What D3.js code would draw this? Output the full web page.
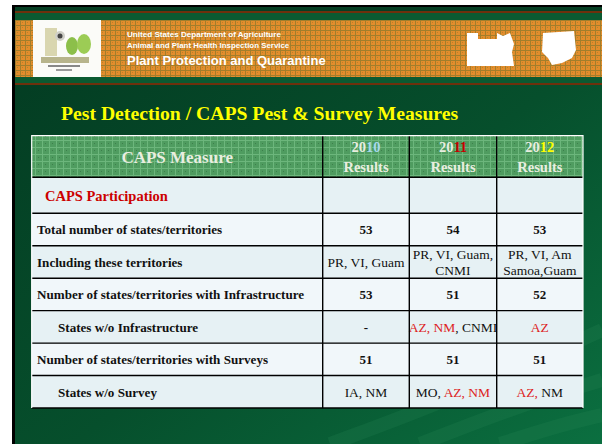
<!DOCTYPE html>
<html>
<head>
<meta charset="utf-8">
<script src="https://cdn.jsdelivr.net/npm/d3@7"></script>
<style>
  html, body { margin: 0; padding: 0; background: #fff; }
  svg { display: block; }
</style>
</head>
<body>
<svg id="slide" width="602" height="444"></svg>
<script>
// table data
var years = ["2010", "2011", "2012"];
var measures = [
  "CAPS Participation",
  "Total number of states/territories",
  "Including these territories",
  "Number of states/territories with Infrastructure",
  "States w/o Infrastructure",
  "Number of states/territories with Surveys",
  "States w/o Survey"
];
// kind of each row: section title, total, list, sub-list
var rowKind = ["section", "count", "list", "count", "sub", "count", "sub"];
// *...* marks the states flagged in red on the slide
var results2010 = ["", "53", "PR, VI, Guam", "53", "-", "51", "IA, NM"];
var results2011 = ["", "54", "PR, VI, Guam,|CNMI", "51", "*AZ, NM*, CNMI", "51", "MO, *AZ, NM*"];
var results2012 = ["", "53", "PR, VI, Am|Samoa,Guam", "52", "*AZ*", "51", "*AZ,* NM"];

var svg = d3.select("#slide");
var defs = svg.append("defs");

// background gradient
var bg = defs.append("linearGradient").attr("id", "bg")
  .attr("x1", "0").attr("y1", "0").attr("x2", "1").attr("y2", "1");
bg.append("stop").attr("offset", "0").attr("stop-color", "#033a21");
bg.append("stop").attr("offset", "0.55").attr("stop-color", "#064f2c");
bg.append("stop").attr("offset", "1").attr("stop-color", "#0b6f40");

// orange plaid of the banner
var plaid = defs.append("pattern").attr("id", "plaid")
  .attr("width", 5).attr("height", 5).attr("patternUnits", "userSpaceOnUse");
plaid.append("rect").attr("width", 5).attr("height", 5).attr("fill", "#e38d2c");
plaid.append("rect").attr("width", 5).attr("height", 1).attr("fill", "#a27e2c");
plaid.append("rect").attr("width", 1).attr("height", 5).attr("fill", "#a27e2c");
plaid.append("rect").attr("x", 2).attr("y", 2).attr("width", 1).attr("height", 1).attr("fill", "#b8822a");

// green grid of the table head
var grid = defs.append("pattern").attr("id", "grid")
  .attr("width", 7).attr("height", 7).attr("patternUnits", "userSpaceOnUse");
grid.append("rect").attr("width", 7).attr("height", 7).attr("fill", "#4f9c60");
grid.append("rect").attr("width", 7).attr("height", 1).attr("fill", "#6cb67c");
grid.append("rect").attr("width", 1).attr("height", 7).attr("fill", "#6cb67c");
grid.append("rect").attr("x", 3).attr("y", 3).attr("width", 1).attr("height", 1).attr("fill", "#3d7f4c");

// slide frame
svg.append("rect").attr("x", 12).attr("y", 5).attr("width", 590).attr("height", 439).attr("fill", "#000");
svg.append("rect").attr("x", 15).attr("y", 7).attr("width", 587).attr("height", 437).attr("fill", "url(#bg)");

// soft streaks bottom right
var streak = d3.line().curve(d3.curveBasis);
[[[330, 444], [450, 400], [602, 330]],
 [[420, 444], [520, 405], [602, 380]],
 [[500, 444], [560, 425], [602, 415]]].forEach(function(p) {
  svg.append("path").attr("d", streak(p)).attr("fill", "none")
    .attr("stroke", "#2c8a58").attr("stroke-opacity", 0.2).attr("stroke-width", 14);
});

// banner
svg.append("rect").attr("x", 15).attr("y", 7).attr("width", 587).attr("height", 4).attr("fill", "#063f23");
svg.append("rect").attr("x", 15).attr("y", 11).attr("width", 587).attr("height", 2).attr("fill", "#6e300c");
svg.append("rect").attr("x", 15).attr("y", 13).attr("width", 587).attr("height", 7).attr("fill", "#0b5a31");
svg.append("rect").attr("x", 15).attr("y", 20).attr("width", 587).attr("height", 57).attr("fill", "url(#plaid)");
svg.append("rect").attr("x", 15).attr("y", 77).attr("width", 587).attr("height", 6).attr("fill", "#0b5a31");
svg.append("rect").attr("x", 15).attr("y", 83).attr("width", 587).attr("height", 2).attr("fill", "#6e300c");

// left logo
var logo = svg.append("g");
logo.append("rect").attr("x", 33).attr("y", 20).attr("width", 68).attr("height", 57).attr("fill", "#fbfbf8");
logo.append("rect").attr("x", 45).attr("y", 28).attr("width", 12).attr("height", 28).attr("fill", "#d9d6b0");
logo.append("circle").attr("cx", 60).attr("cy", 36).attr("r", 5).attr("fill", "#cfcfc8");
logo.append("circle").attr("cx", 60).attr("cy", 36).attr("r", 2.5).attr("fill", "#444");
logo.append("ellipse").attr("cx", 72).attr("cy", 46).attr("rx", 6).attr("ry", 9).attr("fill", "#8cbf4a");
logo.append("ellipse").attr("cx", 84).attr("cy", 44).attr("rx", 7).attr("ry", 10).attr("fill", "#9ccc55");
logo.append("rect").attr("x", 41).attr("y", 57).attr("width", 48).attr("height", 6).attr("fill", "#b7b48c");
logo.append("rect").attr("x", 48).attr("y", 65).attr("width", 32).attr("height", 2).attr("fill", "#888");
logo.append("rect").attr("x", 56).attr("y", 69).attr("width", 16).attr("height", 2).attr("fill", "#999");

// banner text
var banner = svg.append("g").attr("font-family", "'Liberation Sans', Arial, sans-serif")
  .attr("font-weight", "bold").attr("fill", "#fff");
banner.append("text").attr("x", 127).attr("y", 37).attr("font-size", 8.1)
  .text("United States Department of Agriculture");
banner.append("text").attr("x", 127).attr("y", 47.5).attr("font-size", 7.9)
  .text("Animal and Plant Health Inspection Service");
banner.append("text").attr("x", 127).attr("y", 64.5).attr("font-size", 13)
  .text("Plant Protection and Quarantine");

// right logos (white silhouettes)
svg.append("path").attr("fill", "#fff")
  .attr("d", "M467,33 L478,33 L478,39 L497,39 L497,33 L503,36 L510,33 L514,44 L512,52 L514,66 L467,66 Z");
svg.append("path").attr("fill", "#fff")
  .attr("d", "M543,33 L574,31 L576,50 L572,58 L562,63 L552,65 L548,58 L542,52 Z");

// title
svg.append("text").attr("x", 61).attr("y", 120)
  .attr("font-family", "'Liberation Serif', 'Times New Roman', serif")
  .attr("font-weight", "bold").attr("font-size", 19.7).attr("fill", "#ffff00")
  .text("Pest Detection / CAPS Pest & Survey Measures");

// table layout
var colWidths = [291, 86.6, 87.4, 86.3];
var colX = [31.7].concat(Array.from(d3.cumsum(colWidths), function(w) { return 31.7 + w; }));
var rowHeights = [41.6, 36].concat(d3.range(measures.length - 1).map(function() { return 32.45; }));
var rowY = [135.7].concat(Array.from(d3.cumsum(rowHeights), function(h) { return 135.7 + h; }));

var rowScale = d3.scaleOrdinal().domain(d3.range(measures.length)).range(rowY.slice(1));
var table = svg.append("g").attr("font-family", "'Liberation Serif', 'Times New Roman', serif");

// header
table.append("rect").attr("x", colX[0]).attr("y", rowY[0])
  .attr("width", colX[4] - colX[0]).attr("height", rowHeights[0]).attr("fill", "url(#grid)");

var headFill = "#e9eee0";
var yearAccent = ["#a8d9ec", "#c40000", "#ffff00"];
table.append("text").attr("x", (colX[0] + colX[1]) / 2).attr("y", 163)
  .attr("text-anchor", "middle").attr("font-weight", "bold").attr("font-size", 17)
  .attr("fill", headFill).text("CAPS Measure");

var yearHead = table.selectAll("g.year").data(years).enter().append("g").attr("class", "year")
  .attr("font-weight", "bold").attr("font-size", 14.5).attr("text-anchor", "middle");
var yearText = yearHead.append("text")
  .attr("x", function(d, i) { return (colX[i + 1] + colX[i + 2]) / 2; })
  .attr("y", 151.5);
yearText.append("tspan").attr("fill", headFill).text(function(d) { return d.slice(0, 2); });
yearText.append("tspan").attr("fill", function(d, i) { return yearAccent[i]; })
  .text(function(d) { return d.slice(2); });
yearHead.append("text")
  .attr("x", function(d, i) { return (colX[i + 1] + colX[i + 2]) / 2; })
  .attr("y", 171.5).attr("fill", headFill).text("Results");

// body rows
var rows = table.selectAll("g.row").data(measures).enter().append("g").attr("class", "row")
  .attr("transform", function(d, i) { return "translate(0," + rowScale(i) + ")"; });

rows.append("rect").attr("x", colX[0])
  .attr("width", colX[4] - colX[0])
  .attr("height", function(d, i) { return rowHeights[i + 1]; })
  .attr("fill", function(d, i) { return i % 2 === 0 ? "#e6f1f4" : "#f1f7fa"; });

rows.append("text")
  .attr("x", function(d, i) {
    if (rowKind[i] === "section") return 45;
    return rowKind[i] === "sub" ? 58 : 37;
  })
  .attr("y", function(d, i) { return rowKind[i] === "section" ? 24 : 21; })
  .attr("font-weight", "bold")
  .attr("font-size", function(d, i) { return rowKind[i] === "section" ? 14.5 : 13.1; })
  .attr("fill", function(d, i) { return rowKind[i] === "section" ? "#cc0000" : "#111"; })
  .text(function(d) { return d; });

// result cells
var allResults = [results2010, results2011, results2012];
var flagRed = "#dd2222";
allResults.forEach(function(col, c) {
  var cx = (colX[c + 1] + colX[c + 2]) / 2;
  rows.each(function(d, i) {
    var v = col[i];
    if (!v) return;
    var g = d3.select(this);
    var bold = rowKind[i] === "count" || v === "-";
    var lines = v.split("|");
    lines.forEach(function(line, li) {
      var y = lines.length > 1 ? 13 + li * 16 : 21;
      var t = g.append("text").attr("x", cx).attr("y", y)
        .attr("text-anchor", "middle")
        .attr("font-weight", bold ? "bold" : "normal")
        .attr("font-size", bold ? 13 : 13.5);
      line.split("*").forEach(function(part, k) {
        if (!part) return;
        t.append("tspan").attr("fill", k % 2 === 1 ? flagRed : "#111").text(part);
      });
    });
  });
});

// grid lines
var lineColor = "#000";
table.selectAll("line.h").data(rowY.slice(1)).enter().append("line").attr("class", "h")
  .attr("x1", colX[0]).attr("x2", colX[4])
  .attr("y1", function(d) { return d; }).attr("y2", function(d) { return d; })
  .attr("stroke", lineColor).attr("stroke-width", 1.4);
table.selectAll("line.v").data(colX.slice(1, 4)).enter().append("line").attr("class", "v")
  .attr("x1", function(d) { return d; }).attr("x2", function(d) { return d; })
  .attr("y1", rowY[0]).attr("y2", rowY[rowY.length - 1])
  .attr("stroke", lineColor).attr("stroke-width", 1.4);
// white outer edges (top, left, right)
table.append("path")
  .attr("d", "M" + colX[0] + "," + rowY[rowY.length - 1] + " V" + rowY[0] + " H" + colX[4] + " V" + rowY[rowY.length - 1])
  .attr("fill", "none").attr("stroke", "#fff").attr("stroke-width", 1.2);
</script>
</body>
</html>
